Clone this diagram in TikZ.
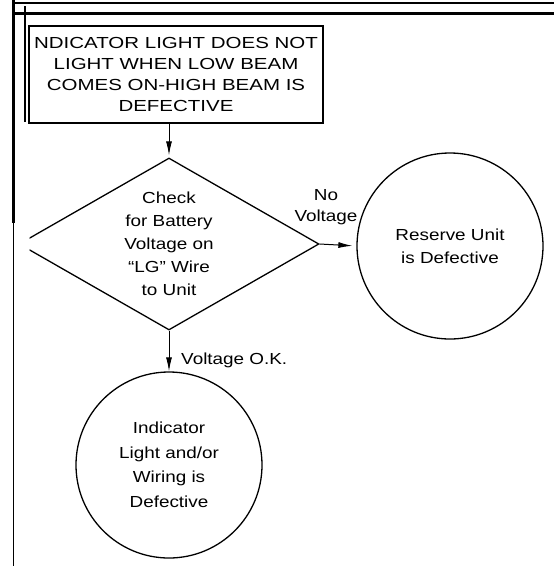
\documentclass[tikz,border=0pt]{standalone}
\usepackage{fontspec}
\setmainfont{Liberation Sans}
\newfontfamily\flowfont[FakeStretch=1.18]{Liberation Sans}
\newfontfamily\capsfont[FakeStretch=1.28]{Liberation Sans}
\usetikzlibrary{shapes.geometric,arrows.meta,positioning}

\begin{document}
\begin{tikzpicture}[x=1pt, y=-1pt,
    titlebox/.style={rectangle, draw, line width=1.5pt, minimum width=294pt, minimum height=97pt, inner sep=0pt, align=center, font=\capsfont\fontsize{16}{21}\selectfont},
    decision/.style={diamond, draw, line width=1.3pt, shape aspect=1.74, minimum width=300pt, minimum height=172pt, inner sep=0pt, align=center, font=\flowfont\fontsize{16}{23}\selectfont},
    result/.style={circle, draw, line width=1.3pt, minimum size=186pt, inner sep=0pt, align=center, font=\flowfont\fontsize{16}{23}\selectfont},
    answer/.style={inner sep=0pt, align=center, font=\flowfont\fontsize{16}{21}\selectfont},
    flow/.style={line width=1pt, -{Latex[length=14pt,width=6pt]}}
]
    \useasboundingbox (0,0) rectangle (554,566);

    % Page frame
    \draw[line width=1.3pt] (13,3) -- (554,3);
    \draw[line width=3pt] (13,13.5) -- (554,13.5);
    \draw[line width=3pt] (13,0) -- (13,223);
    \draw[line width=1pt] (13,223) -- (13,566);
    \draw[line width=2pt] (25,6) -- (25,122);

    % Symptom
    \node[titlebox] (symptom) at (176,74.5) {NDICATOR LIGHT DOES NOT\\LIGHT WHEN LOW BEAM\\COMES ON-HIGH BEAM IS\\DEFECTIVE};

    % Test (cut off on the left)
    \begin{scope}
        \clip (29.5,0) rectangle (554,566);
        \node[decision] (check) at (169,244) {Check\\for Battery\\Voltage on\\“LG” Wire\\to Unit};
    \end{scope}

    % Results
    \node[result] (reserve) at (450,246) {Reserve Unit\\is Defective};
    \node[result, font=\flowfont\fontsize{16}{24.5}\selectfont] (indicator) at (169,465) {Indicator\\Light and/or\\Wiring is\\Defective};

    \draw[flow, shorten >=2pt] (check.north |- symptom.south) -- (check.north);
    \draw[flow, shorten >=4pt] (check.east) -- (reserve.west);
    \draw[flow] (check.south) -- (indicator.north);

    \node[answer] (novolt) at (326,207) {No\\Voltage};
    \node[answer, anchor=west] (voltok) at (181,360) {Voltage O.K.};
\end{tikzpicture}
\end{document}
